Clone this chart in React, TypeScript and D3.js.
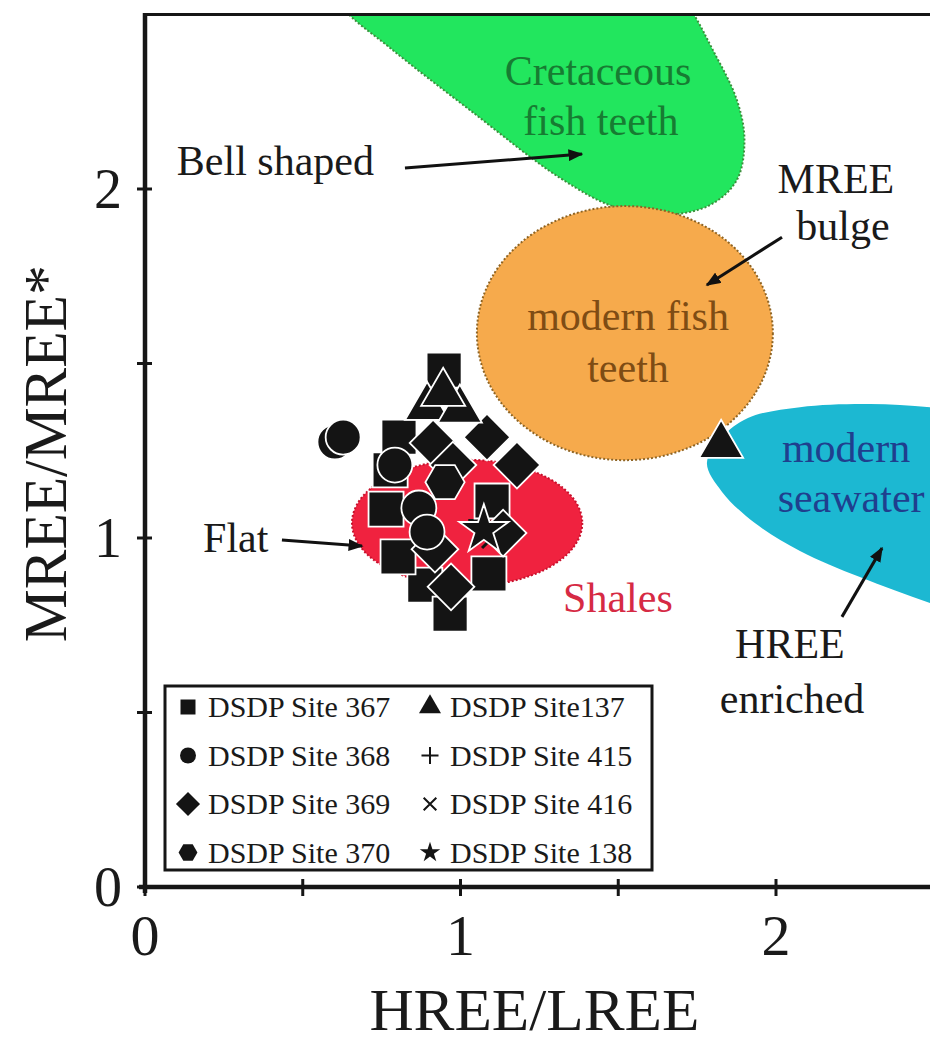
import { useEffect, useRef } from 'react';
import * as d3 from 'd3';

const W = 930;
const H = 1045;
const FONT = '"Liberation Serif", "Times New Roman", serif';

const X_TICKS = [0, 0.5, 1, 1.5, 2];
const Y_TICKS = [0, 0.5, 1, 1.5, 2];
const X_LABELS = [0, 1, 2];
const Y_LABELS = [0, 1, 2];

// HREE/LREE, MREE/MREE* per site
const SITE_415 = [[1.06, 1.05]];
const SITE_416 = [[1.1, 1.0]];
const SITE_367 = [
  [0.948, 1.481], [0.777, 1.195], [0.887, 0.865], [0.805, 1.289], [0.764, 1.083],
  [1.1, 1.106], [0.802, 0.946], [1.09, 0.897], [0.967, 0.782],
];
const SITE_369 = [
  [0.913, 1.272], [0.976, 1.209], [1.084, 1.289], [1.179, 1.209],
  [1.135, 1.014], [0.919, 0.968], [0.97, 0.86],
];
const SITE_368 = [[0.602, 1.275], [0.628, 1.289], [0.792, 1.209], [0.868, 1.086], [0.894, 1.017]];
const SITE_370 = [[0.951, 1.16]];
const SITE_137 = [[0.894, 1.375], [0.998, 1.367], [0.945, 1.415], [1.826, 1.266]];
const SITE_138 = [[1.074, 1.023]];

const LEGEND_LEFT = ['DSDP Site 367', 'DSDP Site 368', 'DSDP Site 369', 'DSDP Site 370'];
const LEGEND_RIGHT = ['DSDP Site137', 'DSDP Site 415', 'DSDP Site 416', 'DSDP Site 138'];
const SHAPES_LEFT = ['square', 'circle', 'diamond', 'hexagon'];
const SHAPES_RIGHT = ['triangle', 'plus', 'cross', 'star'];

// field outlines
const GREEN_FIELD = [
  [0.555, 2.656], [1.03, 2.716], [1.569, 2.685], [1.72, 2.527], [1.8, 2.398],
  [1.876, 2.255], [1.9, 2.14], [1.876, 2.026], [1.791, 1.954], [1.648, 1.926],
  [1.49, 1.948], [1.315, 2.032], [1.03, 2.226], [0.777, 2.404], [0.62, 2.527],
];
const BLUE_FIELD = [
  [1.781, 1.215], [1.829, 1.289], [1.911, 1.344], [2.076, 1.375], [2.298, 1.384],
  [2.52, 1.372], [2.773, 1.338], [2.9, 1.195], [2.868, 0.937], [2.71, 0.751],
  [2.488, 0.814], [2.266, 0.888], [2.076, 0.963], [1.933, 1.043], [1.829, 1.132],
];
const ORANGE_FIELD = { cx: 1.521, cy: 1.587, rx: 0.469, ry: 0.364 };
const RED_FIELD = { cx: 1.021, cy: 1.043, rx: 0.365, ry: 0.181 };

const symbolHexagon = {
  draw(ctx: any, size: number) {
    const r = Math.sqrt(size / (1.5 * Math.sqrt(3)));
    for (let i = 0; i < 6; i++) {
      const a = (Math.PI / 3) * i;
      if (i) ctx.lineTo(r * Math.cos(a), r * Math.sin(a));
      else ctx.moveTo(r * Math.cos(a), r * Math.sin(a));
    }
    ctx.closePath();
  },
};
const symbolPlus = {
  draw(ctx: any, size: number) {
    const r = Math.sqrt(size) / 2;
    ctx.moveTo(-r, 0); ctx.lineTo(r, 0);
    ctx.moveTo(0, -r); ctx.lineTo(0, r);
  },
};
const symbolX = {
  draw(ctx: any, size: number) {
    const r = Math.sqrt(size) / 2;
    ctx.moveTo(-r, -r); ctx.lineTo(r, r);
    ctx.moveTo(-r, r); ctx.lineTo(r, -r);
  },
};

const SYMBOLS: Record<string, any> = {
  square: d3.symbolSquare,
  circle: d3.symbolCircle,
  diamond: d3.symbolSquare,
  hexagon: symbolHexagon,
  triangle: d3.symbolTriangle,
  plus: symbolPlus,
  cross: symbolX,
  star: d3.symbolStar,
};
const BIG: Record<string, number> = {
  square: 1225, circle: 960, diamond: 1090, hexagon: 1000, triangle: 840, plus: 500, cross: 400, star: 750,
};
const SMALL: Record<string, number> = {
  square: 225, circle: 200, diamond: 290, hexagon: 230, triangle: 210, plus: 290, cross: 160, star: 130,
};

export default function App() {
  const ref = useRef<SVGSVGElement>(null);

  useEffect(() => {
    if (!ref.current) return;
    const svg = d3.select(ref.current);
    svg.selectAll('*').remove();

    const x = d3.scaleLinear().domain([0, 2.5]).range([145, 933.75]);
    const y = d3.scaleLinear().domain([0, 2.5]).range([887, 14.5]);

    const defs = svg.append('defs');
    defs.append('clipPath').attr('id', 'plot')
      .append('rect').attr('x', x(0)).attr('y', y(2.5))
      .attr('width', x(2.5) - x(0)).attr('height', y(0) - y(2.5));
    defs.append('marker').attr('id', 'arrow')
      .attr('viewBox', '0 0 10 8').attr('refX', 9).attr('refY', 4)
      .attr('markerWidth', 5).attr('markerHeight', 4).attr('orient', 'auto')
      .attr('markerUnits', 'strokeWidth')
      .append('path').attr('d', 'M0,0 L10,4 L0,8 Z').attr('fill', '#111');

    const fields = svg.append('g').attr('clip-path', 'url(#plot)');
    const outline = d3.line<number[]>().x(d => x(d[0])).y(d => y(d[1])).curve(d3.curveCatmullRomClosed);

    fields.append('path').attr('d', outline(GREEN_FIELD))
      .attr('fill', '#22e65e').attr('stroke', '#3c8f3c').attr('stroke-width', 2).attr('stroke-dasharray', '2,2');
    fields.append('path').attr('d', outline(BLUE_FIELD)).attr('fill', '#1cb8d2');
    fields.append('ellipse')
      .attr('cx', x(ORANGE_FIELD.cx)).attr('cy', y(ORANGE_FIELD.cy))
      .attr('rx', x(ORANGE_FIELD.rx) - x(0)).attr('ry', y(0) - y(ORANGE_FIELD.ry))
      .attr('fill', '#f6aa4c').attr('stroke', '#8e6424').attr('stroke-width', 2).attr('stroke-dasharray', '2,2');
    fields.append('ellipse')
      .attr('cx', x(RED_FIELD.cx)).attr('cy', y(RED_FIELD.cy))
      .attr('rx', x(RED_FIELD.rx) - x(0)).attr('ry', y(0) - y(RED_FIELD.ry))
      .attr('fill', '#f0223f').attr('stroke', '#c8102c').attr('stroke-width', 2).attr('stroke-dasharray', '2,2');

    // field labels
    const label = (t: string, px: number, py: number, color: string, anchor = 'middle') =>
      svg.append('text').attr('x', x(px)).attr('y', y(py)).attr('text-anchor', anchor)
        .attr('font-family', FONT).attr('font-size', 42).attr('fill', color).text(t);

    label('Cretaceous', 1.436, 2.298, '#177c32');
    label('fish teeth', 1.445, 2.155, '#177c32');
    label('modern fish', 1.531, 1.596, '#7e4c14');
    label('teeth', 1.531, 1.447, '#7e4c14');
    label('modern', 2.222, 1.218, '#1f3f8e');
    label('seawater', 2.238, 1.074, '#1f3f8e');
    label('Shales', 1.499, 0.788, '#d62a44');
    label('Bell shaped', 0.101, 2.04, '#1a1a1a', 'start');
    label('MREE', 2.19, 1.989, '#1a1a1a');
    label('bulge', 2.212, 1.854, '#1a1a1a');
    label('HREE', 2.044, 0.656, '#1a1a1a');
    label('enriched', 2.051, 0.499, '#1a1a1a');
    label('Flat', 0.184, 0.96, '#1a1a1a', 'start');

    const arrow = (a: number[], b: number[]) =>
      svg.append('line').attr('x1', x(a[0])).attr('y1', y(a[1])).attr('x2', x(b[0])).attr('y2', y(b[1]))
        .attr('stroke', '#111').attr('stroke-width', 3).attr('marker-end', 'url(#arrow)');
    arrow([0.824, 2.06], [1.385, 2.1]);
    arrow([2.019, 1.862], [1.781, 1.725]);
    arrow([0.434, 0.994], [0.688, 0.977]);
    arrow([2.209, 0.774], [2.336, 0.971]);

    // data points
    const sym = (shape: string, size: number) => d3.symbol().type(SYMBOLS[shape]).size(size)();
    const series: [string, number[][]][] = [
      ['plus', SITE_415], ['cross', SITE_416], ['square', SITE_367], ['diamond', SITE_369],
      ['circle', SITE_368], ['hexagon', SITE_370], ['triangle', SITE_137], ['star', SITE_138],
    ];
    const pts = svg.append('g');
    series.forEach(([shape, data]) => {
      const lineOnly = shape === 'plus' || shape === 'cross';
      pts.selectAll(null).data(data).join('path')
        .attr('transform', d => `translate(${x(d[0])},${y(d[1])})${shape === 'diamond' ? ' rotate(45)' : ''}`)
        .attr('d', sym(shape, BIG[shape]))
        .attr('fill', lineOnly ? 'none' : '#141414')
        .attr('stroke', lineOnly ? '#141414' : '#ffffff')
        .attr('stroke-width', lineOnly ? 3 : 1.8);
    });

    // frame & axes
    const ax = svg.append('g').attr('stroke', '#161616');
    ax.append('line').attr('x1', x(0)).attr('x2', W).attr('y1', y(2.5)).attr('y2', y(2.5)).attr('stroke-width', 3);
    ax.append('line').attr('x1', x(0)).attr('x2', x(0)).attr('y1', y(2.5) - 1.5).attr('y2', y(0) + 6).attr('stroke-width', 4.5);
    ax.append('line').attr('x1', x(0) - 6).attr('x2', W).attr('y1', y(0)).attr('y2', y(0)).attr('stroke-width', 4.5);
    ax.selectAll(null).data(Y_TICKS).join('line')
      .attr('x1', x(0) - 8).attr('x2', x(0) + 7).attr('y1', d => y(d)).attr('y2', d => y(d)).attr('stroke-width', 3);
    ax.selectAll(null).data(X_TICKS).join('line')
      .attr('y1', y(0) - 8).attr('y2', y(0) + 9).attr('x1', d => x(d)).attr('x2', d => x(d)).attr('stroke-width', 3);

    svg.append('g').selectAll('text').data(Y_LABELS).join('text')
      .attr('x', 122).attr('y', d => y(d) + 19).attr('text-anchor', 'end')
      .attr('font-family', FONT).attr('font-size', 56).attr('fill', '#1a1a1a').text(d => d);
    svg.append('g').selectAll('text').data(X_LABELS).join('text')
      .attr('x', d => x(d)).attr('y', 955).attr('text-anchor', 'middle')
      .attr('font-family', FONT).attr('font-size', 58).attr('fill', '#1a1a1a').text(d => d);

    svg.append('text').attr('x', (x(0) + x(2.5)) / 2 - 5).attr('y', 1030).attr('text-anchor', 'middle')
      .attr('font-family', FONT).attr('font-size', 60).attr('fill', '#1a1a1a')
      .attr('textLength', 330).attr('lengthAdjust', 'spacingAndGlyphs').text('HREE/LREE');
    svg.append('text').attr('transform', `translate(66,${(y(0) + y(2.5)) / 2 + 3}) rotate(-90)`)
      .attr('text-anchor', 'middle').attr('font-family', FONT).attr('font-size', 62).attr('fill', '#1a1a1a')
      .attr('textLength', 377).attr('lengthAdjust', 'spacingAndGlyphs').text('MREE/MREE*');

    // legend
    const lg = svg.append('g');
    lg.append('rect').attr('x', 165).attr('y', 686).attr('width', 487).attr('height', 184)
      .attr('fill', '#fff').attr('stroke', '#161616').attr('stroke-width', 3);
    const rows = d3.range(4);
    const col = (names: string[], shapes: string[], mx: number, tx: number) => {
      rows.forEach(i => {
        const cy = 707 + i * 48.5;
        const s = shapes[i];
        const lineOnly = s === 'plus' || s === 'cross';
        lg.append('path')
          .attr('transform', `translate(${mx},${cy})${s === 'diamond' ? ' rotate(45)' : ''}`)
          .attr('d', sym(s, SMALL[s]))
          .attr('fill', lineOnly ? 'none' : '#141414').attr('stroke', '#141414').attr('stroke-width', lineOnly ? 2 : 0);
        lg.append('text').attr('x', tx).attr('y', cy + 10)
          .attr('font-family', FONT).attr('font-size', 30).attr('fill', '#1a1a1a').text(names[i]);
      });
    };
    col(LEGEND_LEFT, SHAPES_LEFT, 188, 208);
    col(LEGEND_RIGHT, SHAPES_RIGHT, 430, 450);
  }, []);

  return (
    <div style={{ position: 'absolute', left: 0, top: 0, width: W, height: H, background: '#fff' }}>
      <svg ref={ref} width={W} height={H} style={{ display: 'block' }} />
    </div>
  );
}
